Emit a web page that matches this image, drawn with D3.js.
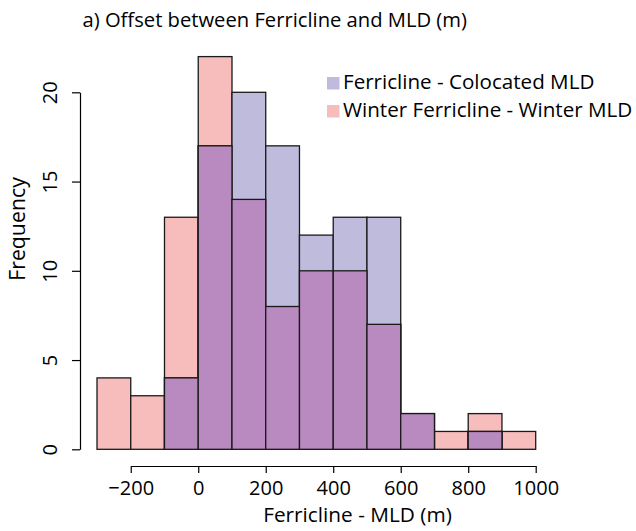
<!DOCTYPE html>
<html>
<head>
<meta charset="utf-8">
<script src="https://cdn.jsdelivr.net/npm/d3@7"></script>
<style>
  body { margin: 0; background: #fff; }
  svg { display: block; font-family: "Open Sans", sans-serif; }
</style>
</head>
<body>
<div id="chart"></div>
<script>
// bins of 100 m, from -300 to 1000
const binStarts = [-300, -200, -100, 0, 100, 200, 300, 400, 500, 600, 700, 800, 900];
const colocated = [0, 0, 4, 17, 20, 17, 12, 13, 13, 2, 0, 1, 0];
const winter = [4, 3, 13, 22, 14, 8, 10, 10, 7, 2, 1, 2, 1];
const xTicks = [-200, 0, 200, 400, 600, 800, 1000];
const yTicks = [0, 5, 10, 15, 20];
const legendLabels = ['Ferricline - Colocated MLD', 'Winter Ferricline - Winter MLD'];

const binWidth = 100;
const w = 636, h = 531;
const colors = { colocated: '#bfbbdd', winter: '#f7bdbd', both: '#b98abf' };

const svg = d3.select('#chart').append('svg')
    .attr('width', w)
    .attr('height', h);

const x = d3.scaleLinear()
    .domain([-300, 1000])
    .range([97, 535.7]);

const y = d3.scaleLinear()
    .domain([0, 22])
    .range([449.3, 56.6]);

const bins = binStarts.map((b, i) => ({
    x0: b,
    x1: b + binWidth,
    colocated: colocated[i],
    winter: winter[i],
    both: Math.min(colocated[i], winter[i])
}));

const drawBars = (key) => {
    svg.append('g')
        .attr('class', 'bars-' + key)
        .selectAll('rect')
        .data(bins.filter(d => d[key] > 0))
        .enter()
        .append('rect')
        .attr('x', d => x(d.x0))
        .attr('width', d => x(d.x1) - x(d.x0))
        .attr('y', d => y(d[key]))
        .attr('height', d => y(0) - y(d[key]))
        .attr('fill', colors[key])
        .attr('stroke', '#1a1a1a')
        .attr('stroke-width', 1.3);
};

drawBars('winter');
drawBars('colocated');
drawBars('both');

// axes only span the tick range, like R
const xAxisScale = x.copy()
    .domain([xTicks[0], xTicks[xTicks.length - 1]])
    .range([x(xTicks[0]), x(xTicks[xTicks.length - 1])]);

svg.append('g')
    .attr('id', 'x-axis')
    .attr('transform', 'translate(0,466)')
    .call(d3.axisBottom(xAxisScale)
        .tickValues(xTicks)
        .tickSize(7)
        .tickSizeOuter(0)
        .tickFormat(d => d < 0 ? '\u2212' + Math.abs(d) : d))
    .call(g => g.selectAll('path, line').attr('stroke', '#000').attr('stroke-width', 1.2))
    .call(g => g.selectAll('text')
        .attr('fill', '#000')
        .attr('font-size', 20)
        .attr('font-family', '"Open Sans", sans-serif')
        .attr('dy', 0)
        .attr('y', 29));

const yAxisScale = y.copy()
    .domain([yTicks[0], yTicks[yTicks.length - 1]])
    .range([y(yTicks[0]), y(yTicks[yTicks.length - 1])]);

svg.append('g')
    .attr('id', 'y-axis')
    .attr('transform', 'translate(80,0)')
    .call(d3.axisLeft(yAxisScale)
        .tickValues(yTicks)
        .tickSize(8)
        .tickSizeOuter(0))
    .call(g => g.selectAll('path, line').attr('stroke', '#000').attr('stroke-width', 1.2))
    .call(g => g.selectAll('text')
        .attr('fill', '#000')
        .attr('font-size', 20)
        .attr('font-family', '"Open Sans", sans-serif')
        .attr('transform', 'rotate(-90)')
        .attr('text-anchor', 'middle')
        .attr('x', 0)
        .attr('dy', 0)
        .attr('y', -23.5));

svg.append('text')
    .text('Ferricline - MLD (m)')
    .attr('x', 357.5)
    .attr('y', 521.5)
    .attr('text-anchor', 'middle')
    .attr('font-size', 20.8);

svg.append('text')
    .text('Frequency')
    .attr('transform', 'translate(25,229) rotate(-90)')
    .attr('text-anchor', 'middle')
    .attr('font-size', 21.3);

svg.append('text')
    .text('a) Offset between Ferricline and MLD (m)')
    .attr('x', 82.5)
    .attr('y', 27)
    .attr('font-size', 20.2);

const legend = svg.append('g').attr('id', 'legend');
const legendItems = legend.selectAll('g')
    .data(legendLabels)
    .enter()
    .append('g')
    .attr('transform', (d, i) => 'translate(327,' + (77 + i * 28) + ')');

legendItems.append('rect')
    .attr('width', 12.5)
    .attr('height', 12.5)
    .attr('fill', (d, i) => i === 0 ? colors.colocated : colors.winter);

legendItems.append('text')
    .text(d => d)
    .attr('x', 16)
    .attr('y', 12.3)
    .attr('font-size', 20.6);
</script>
</body>
</html>
